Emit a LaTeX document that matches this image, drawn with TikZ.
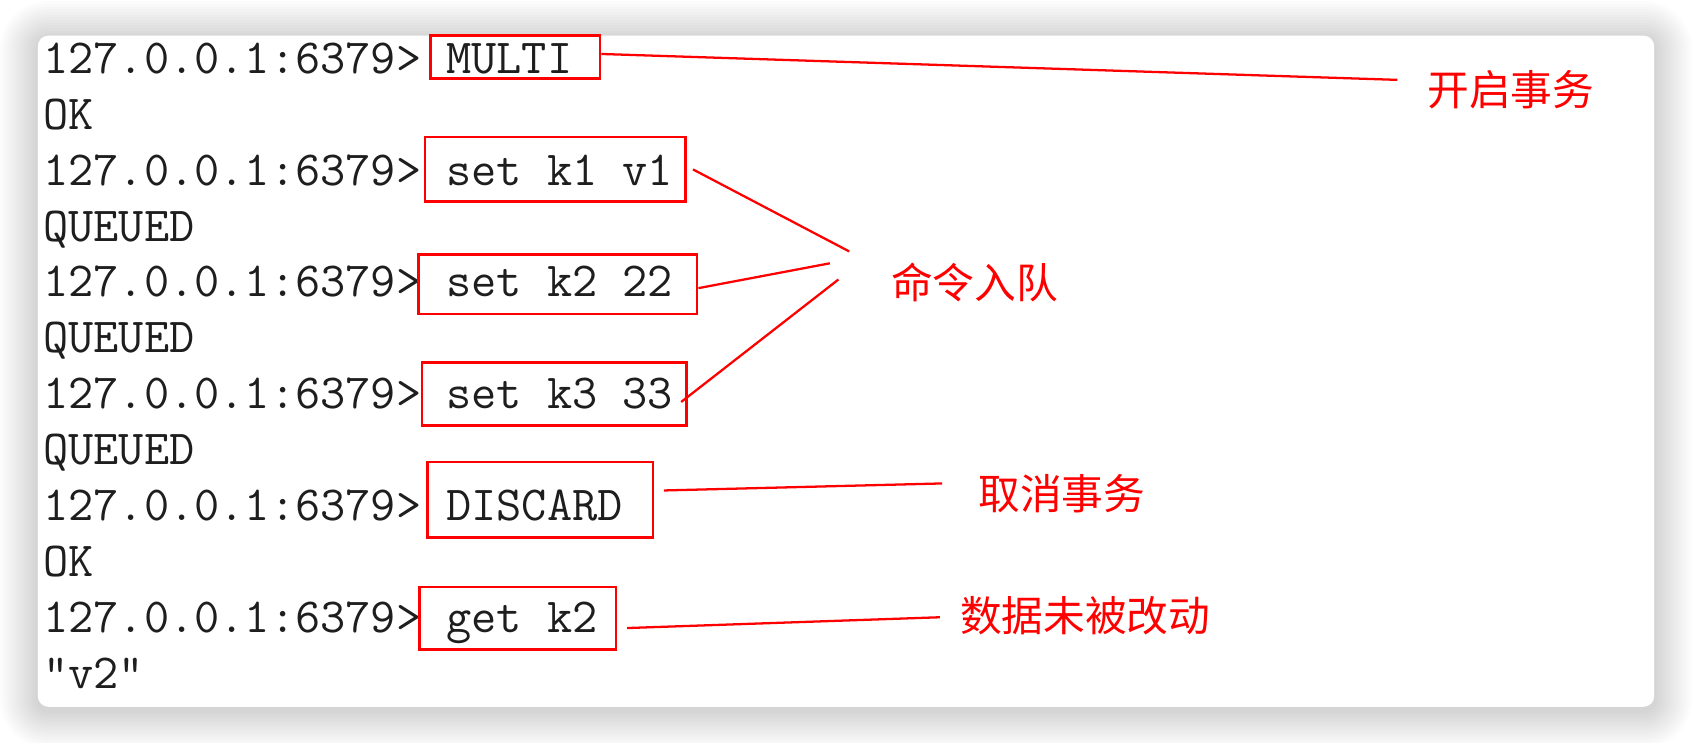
\documentclass[tikz,border=0pt]{standalone}
\usepackage{fontspec}
\newfontfamily\cjk{Noto Sans CJK SC}
\definecolor{markred}{HTML}{FF0000}
\definecolor{termtext}{HTML}{1E1E1E}

\begin{document}
\begin{tikzpicture}
	[
		x=0.1mm, y=-0.1mm,
		term/.style={anchor=base west, inner sep=0pt, text=termtext, font=\ttfamily\fontsize{12.9pt}{14pt}\selectfont},
		cmdbox/.style={rectangle, draw=markred, line width=0.7pt, inner sep=0pt},
		note/.style={anchor=west, inner sep=0pt, text=markred, font=\cjk\fontsize{11pt}{13pt}\selectfont, text height=0.8em, text depth=0.05em},
		pointer/.style={draw=markred, line width=0.6pt},
	]

	\fill[white] (0,0) rectangle (1568,688);
	\useasboundingbox (0,0) rectangle (1568,688);

	% shadow and card
	\foreach \d [evaluate=\d as \r using 1+0.25*\d] in {1,...,14}
		\fill[black, opacity=0.012, rounded corners=\r mm] ({35-2.5*\d},{36-2.5*\d}) rectangle ({1533+2.5*\d},{658+2.5*\d});
	\fill[white, rounded corners=1mm] (35,33) rectangle (1533,655);

	% terminal lines
	\foreach \txt [count=\i from 0] in {127.0.0.1:6379> MULTI, OK, 127.0.0.1:6379> set k1 v1, QUEUED, 127.0.0.1:6379> set k2 22, QUEUED, 127.0.0.1:6379> set k3 33, QUEUED, 127.0.0.1:6379> DISCARD, OK, 127.0.0.1:6379> get k2, "v2"}
		\node [term] (row\i) at (39.5,{68+51.8*\i}) {\txt};

	% boxes round the commands
	\node [cmdbox, minimum width=15.7mm, minimum height=4.0mm] (multi) at (477.5,53) {};
	\node [cmdbox, minimum width=24.1mm, minimum height=6.0mm] (setone) at (514.5,157) {};
	\node [cmdbox, minimum width=25.8mm, minimum height=5.5mm] (settwo) at (517,263.5) {};
	\node [cmdbox, minimum width=24.5mm, minimum height=5.8mm] (setthree) at (513.5,365) {};
	\node [cmdbox, minimum width=20.9mm, minimum height=7.0mm] (discard) at (500.5,463) {};
	\node [cmdbox, minimum width=18.2mm, minimum height=5.8mm] (getk) at (480,573) {};

	% notes
	\node [note] (begintx) at (1322,85) {开启事务};
	\node [note] (enqueue) at (825,263) {命令入队};
	\node [note] (canceltx) at (906,459) {取消事务};
	\node [note] (unchanged) at (889,572) {数据未被改动};

	\coordinate (multiend) at (1295,74);
	\coordinate (oneend) at (787,233);
	\coordinate (twoend) at (769,244);
	\coordinate (threeend) at (777,259);
	\coordinate (discardend) at (873,448);
	\coordinate (getkend) at (871,572);

	\draw[pointer] ([yshift=0.3mm]multi.east) -- (multiend);
	\draw[pointer] ([xshift=0.6mm]setone.east) -- (oneend);
	\draw[pointer] ([yshift=-0.35mm]settwo.east) -- (twoend);
	\draw[pointer] ([shift={(-0.6mm,-0.75mm)}]setthree.east) -- (threeend);
	\draw[pointer] ([shift={(0.9mm,0.85mm)}]discard.east) -- (discardend);
	\draw[pointer] ([shift={(0.9mm,-0.9mm)}]getk.east) -- (getkend);

\end{tikzpicture}
\end{document}
